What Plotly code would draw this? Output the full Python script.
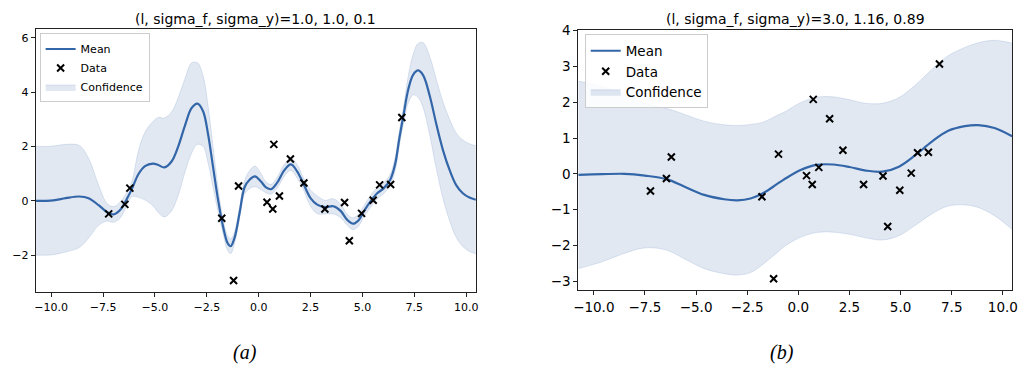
import plotly.graph_objects as go

# ---------------- data ----------------
data_x = [-7.23, -6.45, -6.21, -1.78, -1.21, -0.97, 0.40, 0.68, 0.73, 1.00,
          1.53, 2.18, 3.19, 4.14, 4.37, 4.96, 5.52, 5.83, 6.36, 6.90]
data_y = [-0.48, -0.13, 0.47, -0.64, -2.93, 0.55, -0.05, -0.30, 2.08, 0.18,
          1.54, 0.66, -0.30, -0.06, -1.47, -0.46, 0.02, 0.59, 0.60, 3.07]

# panel (a): l=1.0, sigma_f=1.0, sigma_y=0.1
x_a = [-10.75, -9.9, -9.3, -8.65, -8.2, -7.7, -7.3, -7.0, -6.67, -6.35,
       -6.1, -5.8, -5.48, -5.1, -4.84, -4.55, -4.2, -3.88, -3.55, -3.23,
       -2.95, -2.68, -2.44, -2.2, -1.96, -1.72, -1.5, -1.35, -1.16, -0.92,
       -0.68, -0.44, -0.18, 0.1, 0.35, 0.6, 0.9, 1.23, 1.55, 1.86,
       2.15, 2.5, 2.82, 3.2, 3.6, 3.95, 4.27, 4.55, 4.83, 5.06,
       5.38, 5.7, 6.02, 6.34, 6.58, 6.78, 6.98, 7.21, 7.45, 7.69,
       7.93, 8.25, 8.57, 8.89, 9.21, 9.52, 9.84, 10.16, 10.47]
mean_a = [0.0, 0.02, 0.10, 0.16, 0.10, -0.17, -0.42, -0.50, -0.33, 0.08,
          0.46, 0.98, 1.28, 1.37, 1.32, 1.23, 1.45, 2.0, 2.78, 3.42,
          3.58, 3.3, 2.45, 1.25, 0.05, -0.93, -1.55, -1.67, -1.35, -0.44,
          0.50, 0.78, 0.90, 0.72, 0.50, 0.43, 0.68, 1.12, 1.34, 1.08,
          0.64, 0.10, -0.14, -0.23, -0.20, -0.37, -0.70, -0.84, -0.70, -0.40,
          -0.03, 0.27, 0.46, 0.78, 1.36, 2.30, 3.15, 4.10, 4.65, 4.80,
          4.62, 3.85, 2.80, 1.85, 1.12, 0.58, 0.28, 0.12, 0.04]
half_a = [2.0, 2.0, 1.98, 1.88, 1.47, 0.72, 0.32, 0.29, 0.30, 0.25,
          0.30, 0.85, 1.25, 1.55, 1.75, 1.82, 1.82, 1.8, 1.72, 1.66,
          1.5, 1.3, 1.05, 0.75, 0.45, 0.27, 0.27, 0.27, 0.22, 0.2,
          0.25, 0.33, 0.38, 0.3, 0.2, 0.18, 0.2, 0.22, 0.22, 0.25,
          0.22, 0.3, 0.33, 0.25, 0.28, 0.25, 0.2, 0.22, 0.22, 0.2,
          0.22, 0.2, 0.2, 0.2, 0.25, 0.28, 0.3, 0.5, 0.75, 1.0,
          1.2, 1.45, 1.65, 1.78, 1.87, 1.92, 1.96, 1.98, 1.99]

# panel (b): l=3.0, sigma_f=1.16, sigma_y=0.89
x_b = [-10.76, -9.6, -8.5, -7.5, -6.45, -5.56, -4.6, -3.63, -2.98, -2.34,
       -1.69, -1.05, -0.73, 0.08, 0.89, 1.69, 2.5, 3.3, 4.11, 4.92,
       5.72, 6.53, 7.33, 8.14, 8.79, 9.59, 10.45]
mean_b = [-0.03, -0.01, 0.0, -0.05, -0.15, -0.36, -0.59, -0.71, -0.74, -0.69,
          -0.53, -0.29, -0.17, 0.10, 0.25, 0.26, 0.19, 0.09, 0.06, 0.2,
          0.52, 0.90, 1.20, 1.33, 1.36, 1.28, 1.05]
half_b = [2.62, 2.45, 2.22, 2.02, 1.98, 2.02, 2.06, 2.08, 2.09, 2.07,
          1.98, 1.92, 1.88, 1.88, 1.89, 1.89, 1.88, 1.88, 1.91, 1.93,
          1.96, 2.02, 2.1, 2.2, 2.3, 2.45, 2.6]

titles = ["(l, sigma_f, sigma_y)=1.0, 1.0, 0.1", "(l, sigma_f, sigma_y)=3.0, 1.16, 0.89"]
captions = ["(a)", "(b)"]
x_ticks = [-10.0, -7.5, -5.0, -2.5, 0.0, 2.5, 5.0, 7.5, 10.0]
y_ticks_a = [-2, 0, 2, 4, 6]
y_ticks_b = [-3, -2, -1, 0, 1, 2, 3, 4]

# ---------------- style ----------------
BLUE = "#3366a8"
FILL = "rgba(51,102,168,0.15)"
EDGE = "rgba(51,102,168,0.18)"
FONT = "DejaVu Sans"
W, H = 1024, 367

fig = go.Figure()

panels = [
    dict(x=x_a, m=mean_a, h=half_a, xa="x", ya="y", leg="legend"),
    dict(x=x_b, m=mean_b, h=half_b, xa="x2", ya="y2", leg="legend2"),
]
for p in panels:
    lower = [m - h for m, h in zip(p["m"], p["h"])]
    upper = [m + h for m, h in zip(p["m"], p["h"])]
    fig.add_trace(go.Scatter(x=p["x"], y=lower, mode="lines", xaxis=p["xa"], yaxis=p["ya"],
                             line=dict(color=EDGE, width=0.8, shape="spline", smoothing=1.0),
                             showlegend=False, hoverinfo="skip", legend=p["leg"]))
    fig.add_trace(go.Scatter(x=p["x"], y=upper, mode="lines", xaxis=p["xa"], yaxis=p["ya"],
                             line=dict(color=EDGE, width=0.8, shape="spline", smoothing=1.0),
                             fill="tonexty", fillcolor=FILL, name="Confidence",
                             legend=p["leg"], legendrank=3))
    fig.add_trace(go.Scatter(x=p["x"], y=p["m"], mode="lines", xaxis=p["xa"], yaxis=p["ya"],
                             line=dict(color=BLUE, width=2.2, shape="spline", smoothing=1.0),
                             name="Mean", legend=p["leg"], legendrank=1))
    fig.add_trace(go.Scatter(x=data_x, y=data_y, mode="markers", xaxis=p["xa"], yaxis=p["ya"],
                             marker=dict(symbol="x-thin", size=7, color="black",
                                         line=dict(color="black", width=2)),
                             name="Data", legend=p["leg"], legendrank=2))

def px_x(v):
    return v / W

def px_y(v):
    return 1 - v / H

axis_common = dict(showline=True, mirror=True, linecolor="#222222", linewidth=1,
                   ticks="outside", ticklen=4, tickcolor="#222222", showgrid=False,
                   zeroline=False, color="black")

fig.update_layout(
    width=W, height=H,
    margin=dict(l=0, r=0, t=0, b=0),
    paper_bgcolor="white", plot_bgcolor="white",
    font=dict(family=FONT, color="black"),
    xaxis=dict(domain=[px_x(31), px_x(476)], range=[-10.75, 10.47], anchor="y",
               tickvals=x_ticks, tickformat=".1f", tickfont=dict(size=11), **axis_common),
    yaxis=dict(domain=[px_y(291), px_y(22)], range=[-3.37, 6.34], anchor="x",
               tickvals=y_ticks_a, tickfont=dict(size=11), **axis_common),
    xaxis2=dict(domain=[px_x(579.5), px_x(1018)], range=[-10.76, 10.45], anchor="y2",
                tickvals=x_ticks, tickformat=".1f", tickfont=dict(size=13.5), **axis_common),
    yaxis2=dict(domain=[px_y(289), px_y(23)], range=[-3.26, 4.03], anchor="x2",
                tickvals=y_ticks_b, tickfont=dict(size=13.5), **axis_common),
    legend=dict(x=px_x(35), y=px_y(27), xanchor="left", yanchor="top",
                bgcolor="rgba(255,255,255,0.85)", bordercolor="#cccccc", borderwidth=1,
                font=dict(size=11, family=FONT), tracegroupgap=0, traceorder="normal"),
    legend2=dict(x=px_x(586), y=px_y(28), xanchor="left", yanchor="top",
                 bgcolor="rgba(255,255,255,0.85)", bordercolor="#cccccc", borderwidth=1,
                 font=dict(size=13.5, family=FONT), tracegroupgap=0, traceorder="normal"),
    showlegend=True,
)

annotations = [
    dict(text=titles[0], x=px_x(253.5), y=px_y(12), xref="paper", yref="paper",
         showarrow=False, font=dict(size=14, family=FONT), xanchor="center", yanchor="middle"),
    dict(text=titles[1], x=px_x(798.7), y=px_y(12), xref="paper", yref="paper",
         showarrow=False, font=dict(size=14, family=FONT), xanchor="center", yanchor="middle"),
    dict(text="<i>" + captions[0] + "</i>", x=px_x(243), y=px_y(352), xref="paper", yref="paper",
         showarrow=False, font=dict(size=20, family="Liberation Serif"), xanchor="center", yanchor="middle"),
    dict(text="<i>" + captions[1] + "</i>", x=px_x(785), y=px_y(352), xref="paper", yref="paper",
         showarrow=False, font=dict(size=20, family="Liberation Serif"), xanchor="center", yanchor="middle"),
]
fig.update_layout(annotations=annotations)

fig.write_html("out.html", config={"displayModeBar": False},
               post_script="document.body.style.margin='0px';document.body.style.overflow='hidden';")
